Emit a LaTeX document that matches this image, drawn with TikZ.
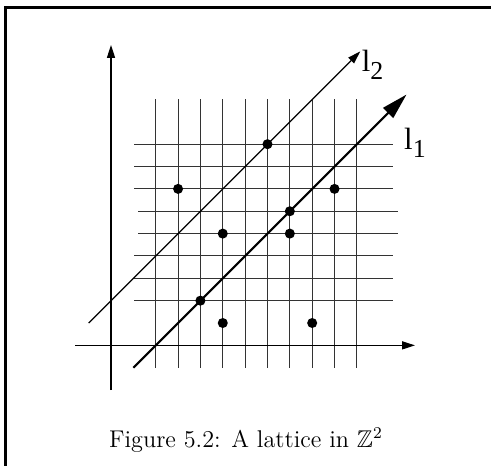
\documentclass[tikz,border=0pt]{standalone}
\usepackage{amssymb}
\usepackage{fontspec}
\newfontfamily\timesfont{Liberation Serif}
\usetikzlibrary{arrows.meta}
\tikzset{
  gridline/.style={line width=0.5pt, black!80},
  axisline/.style={line width=0.6pt, -{Triangle[length=6.3pt,width=3.9pt]}},
  latdot/.style={circle, fill=black, inner sep=0pt, minimum size=4.9pt},
  linelabel/.style={anchor=base west, inner sep=0pt, font=\timesfont\fontsize{15}{15}\selectfont},
}
\newcommand{\lab}[1]{l\raisebox{-4pt}{\fontsize{12.6}{12.6}\selectfont #1}}
\begin{document}
\begin{tikzpicture}[x=10.90pt, y=10.90pt]
\useasboundingbox (-4.966,-5.356) rectangle (17.0,15.45);
% frame
\draw[line width=1.46pt] (-4.74,-5.6) -- (-4.74,15.12) -- (17.3,15.12);
% grid
\foreach \i in {2,...,11} \draw[gridline] (\i,-1) -- (\i,11);
\foreach \j in {2,3,4,7,8,9} \draw[gridline] (1.03,\j) -- (12.63,\j);
\foreach \j in {5,6} \draw[gridline] (1.22,\j) -- (12.83,\j);
% axes
\coordinate (xs) at (-1.61,0); \coordinate (xe) at (13.6,0);
\coordinate (ys) at (0,-2.0); \coordinate (ye) at (0,13.44);
\draw[axisline] (xs) -- (xe);
\draw[axisline] (ys) -- (ye);
% lines
\coordinate (l1s) at (1,-1); \coordinate (l1e) at (13.22,11.22);
\coordinate (l2s) at (-1,1); \coordinate (l2e) at (11.15,13.15);
\draw[line width=1pt, -{Triangle[length=12.7pt,width=6.8pt]}] (l1s) -- (l1e);
\draw[line width=0.6pt, -{Triangle[length=6.3pt,width=3.9pt]}] (l2s) -- (l2e);
\node[linelabel] (L1) at (13.1,8.78) {\lab{1}};
\node[linelabel] (L2) at (11.2,12.24) {\lab{2}};
% lattice points
\foreach \p/\q [count=\k] in {3/7, 7/9, 5/5, 8/6, 8/5, 10/7, 4/2, 5/1, 9/1}
  \node[latdot] (d\k) at (\p,\q) {};
% caption
\node[anchor=base, inner sep=0pt, font=\fontsize{11.8}{14}\selectfont] (cap) at (6.04,-4.58) {Figure 5.2: A lattice in $\mathbb{Z}^2$};
\end{tikzpicture}
\end{document}
